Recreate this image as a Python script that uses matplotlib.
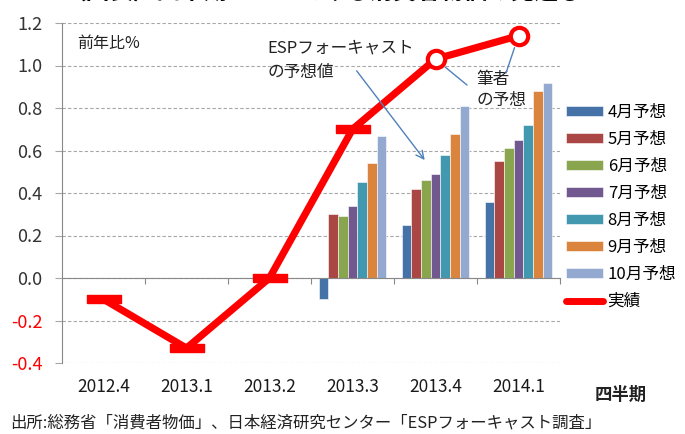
import numpy as np
import matplotlib
matplotlib.use("Agg")
import matplotlib.pyplot as plt
from matplotlib.lines import Line2D
from matplotlib.patches import Patch

plt.rcParams['font.family'] = ['Noto Sans CJK JP', 'DejaVu Sans']

# ---------- data ----------
quarters = ["2012.4", "2013.1", "2013.2", "2013.3", "2013.4", "2014.1"]
actual = [-0.10, -0.33, 0.00, 0.70, 1.03, 1.14]   # 実績 / 筆者の予想
forecast_quarters = ["2013.3", "2013.4", "2014.1"]
forecast_names = ["4月予想", "5月予想", "6月予想", "7月予想", "8月予想", "9月予想", "10月予想"]
fc_apr = [-0.10, 0.25, 0.36]
fc_may = [0.30, 0.42, 0.55]
fc_jun = [0.29, 0.46, 0.61]
fc_jul = [0.34, 0.49, 0.65]
fc_aug = [0.45, 0.58, 0.72]
fc_sep = [0.54, 0.68, 0.88]
fc_oct = [0.67, 0.81, 0.92]
forecasts = [fc_apr, fc_may, fc_jun, fc_jul, fc_aug, fc_sep, fc_oct]
bar_colors = ["#4572A7", "#AA4643", "#89A54E", "#71588F", "#4198AF", "#DB843D", "#93A9CF"]
yticks = [-0.4, -0.2, 0.0, 0.2, 0.4, 0.6, 0.8, 1.0, 1.2]

fig = plt.figure(figsize=(6.85, 4.34), dpi=100)
ax = fig.add_axes([62/685, 1 - 363/434, 498/685, 340/434])

x = np.arange(len(quarters))
xf = np.array([quarters.index(q) for q in forecast_quarters])
w = 0.117
for i, (vals, col) in enumerate(zip(forecasts, bar_colors)):
    ax.bar(xf + (i - 3) * w, vals, width=w, color=col, edgecolor="white",
           linewidth=0.4, zorder=2)

# actual line
red = "#FF0000"
ax.plot(x, actual, color=red, lw=5.2, solid_capstyle="butt", zorder=3)
dash = [(-1, -0.25), (1, -0.25), (1, 0.25), (-1, 0.25), (-1, -0.25)]
ax.plot(x[:4], actual[:4], ls="none", marker=dash, ms=24, color=red,
        mec=red, zorder=4)
ax.plot(x[4:], actual[4:], ls="none", marker="o", ms=12.5, mfc="white",
        mec=red, mew=3, zorder=4)

ax.set_xlim(-0.5, 5.5)
ax.set_ylim(-0.4, 1.2)
ax.set_yticks(yticks)
ax.set_yticklabels([f"{v:.1f}" for v in yticks])
for lab, v in zip(ax.get_yticklabels(), yticks):
    lab.set_color(red if v < 0 else "#333333")
ax.yaxis.grid(True, ls=(0, (3, 2)), color="#A6A6A6", lw=0.8)
ax.set_axisbelow(True)
ax.tick_params(axis="y", length=5, color="#A6A6A6", labelsize=13, pad=9)

for s in ["top", "right"]:
    ax.spines[s].set_visible(False)
ax.spines["left"].set_color("#888888")
ax.spines["bottom"].set_color("#888888")
ax.spines["bottom"].set_position(("data", 0))
ax.set_xticks(x + 0.5)
ax.set_xticklabels([])
ax.tick_params(axis="x", length=4, color="#888888", direction="out")

sec = ax.secondary_xaxis(0)
sec.spines["bottom"].set_visible(False)
sec.set_xticks(x)
sec.set_xticklabels(quarters)
sec.tick_params(length=0, pad=11, labelsize=12.5, labelcolor="#1a1a1a")

# annotations
blue = "#4F81BD"
ax.text(0.03, 0.94, "前年比%", transform=ax.transAxes, fontsize=11.5,
        color="#222222", va="center")
ax.text(1.98, 1.026, "ESPフォーキャスト\nの予想値", fontsize=12, color="#222222",
        va="center", linespacing=1.6)
ax.annotate("", xy=(3.87, 0.555), xytext=(3.05, 0.975),
            arrowprops=dict(arrowstyle="->", color=blue, lw=1,
                            mutation_scale=14, shrinkA=0, shrinkB=0))
ax.text(4.49, 0.885, "筆者\nの予想", fontsize=12, color="#222222", va="center",
        linespacing=1.25)
ax.annotate("", xy=(4, actual[4]), xytext=(4.38, 0.908),
            arrowprops=dict(arrowstyle="-", color=blue, lw=1, shrinkA=0, shrinkB=9))
ax.annotate("", xy=(5, actual[5]), xytext=(4.85, 0.965),
            arrowprops=dict(arrowstyle="-", color=blue, lw=1, shrinkA=0, shrinkB=9))

# legend
handles = [Patch(facecolor=c, edgecolor="white", lw=0.4) for c in bar_colors]
handles.append(Line2D([], [], color=red, lw=5, solid_capstyle="round"))
fig.legend(handles, forecast_names + ["実績"], loc="upper left",
           bbox_to_anchor=(566/685, 1 - 104/434), frameon=False, fontsize=12,
           handlelength=2.2, handleheight=0.5, handletextpad=0.3,
           labelspacing=0.6, borderpad=0, borderaxespad=0)

fig.text(595/685, 1 - 395/434, "四半期", fontsize=12.5, fontweight="bold",
         color="#222222", va="center")
fig.text(10/685, 1 - 423/434,
         "出所:総務省「消費者物価」、日本経済研究センター「ESPフォーキャスト調査」",
         fontsize=11.8, color="#222222", va="center")
fig.text(322/685, 1 + 1/434, "（図表）四半期ベースでみる消費者物価の見通し",
         fontsize=17, fontweight="bold", ha="center", va="baseline")

fig.savefig("out.png", dpi=100)
